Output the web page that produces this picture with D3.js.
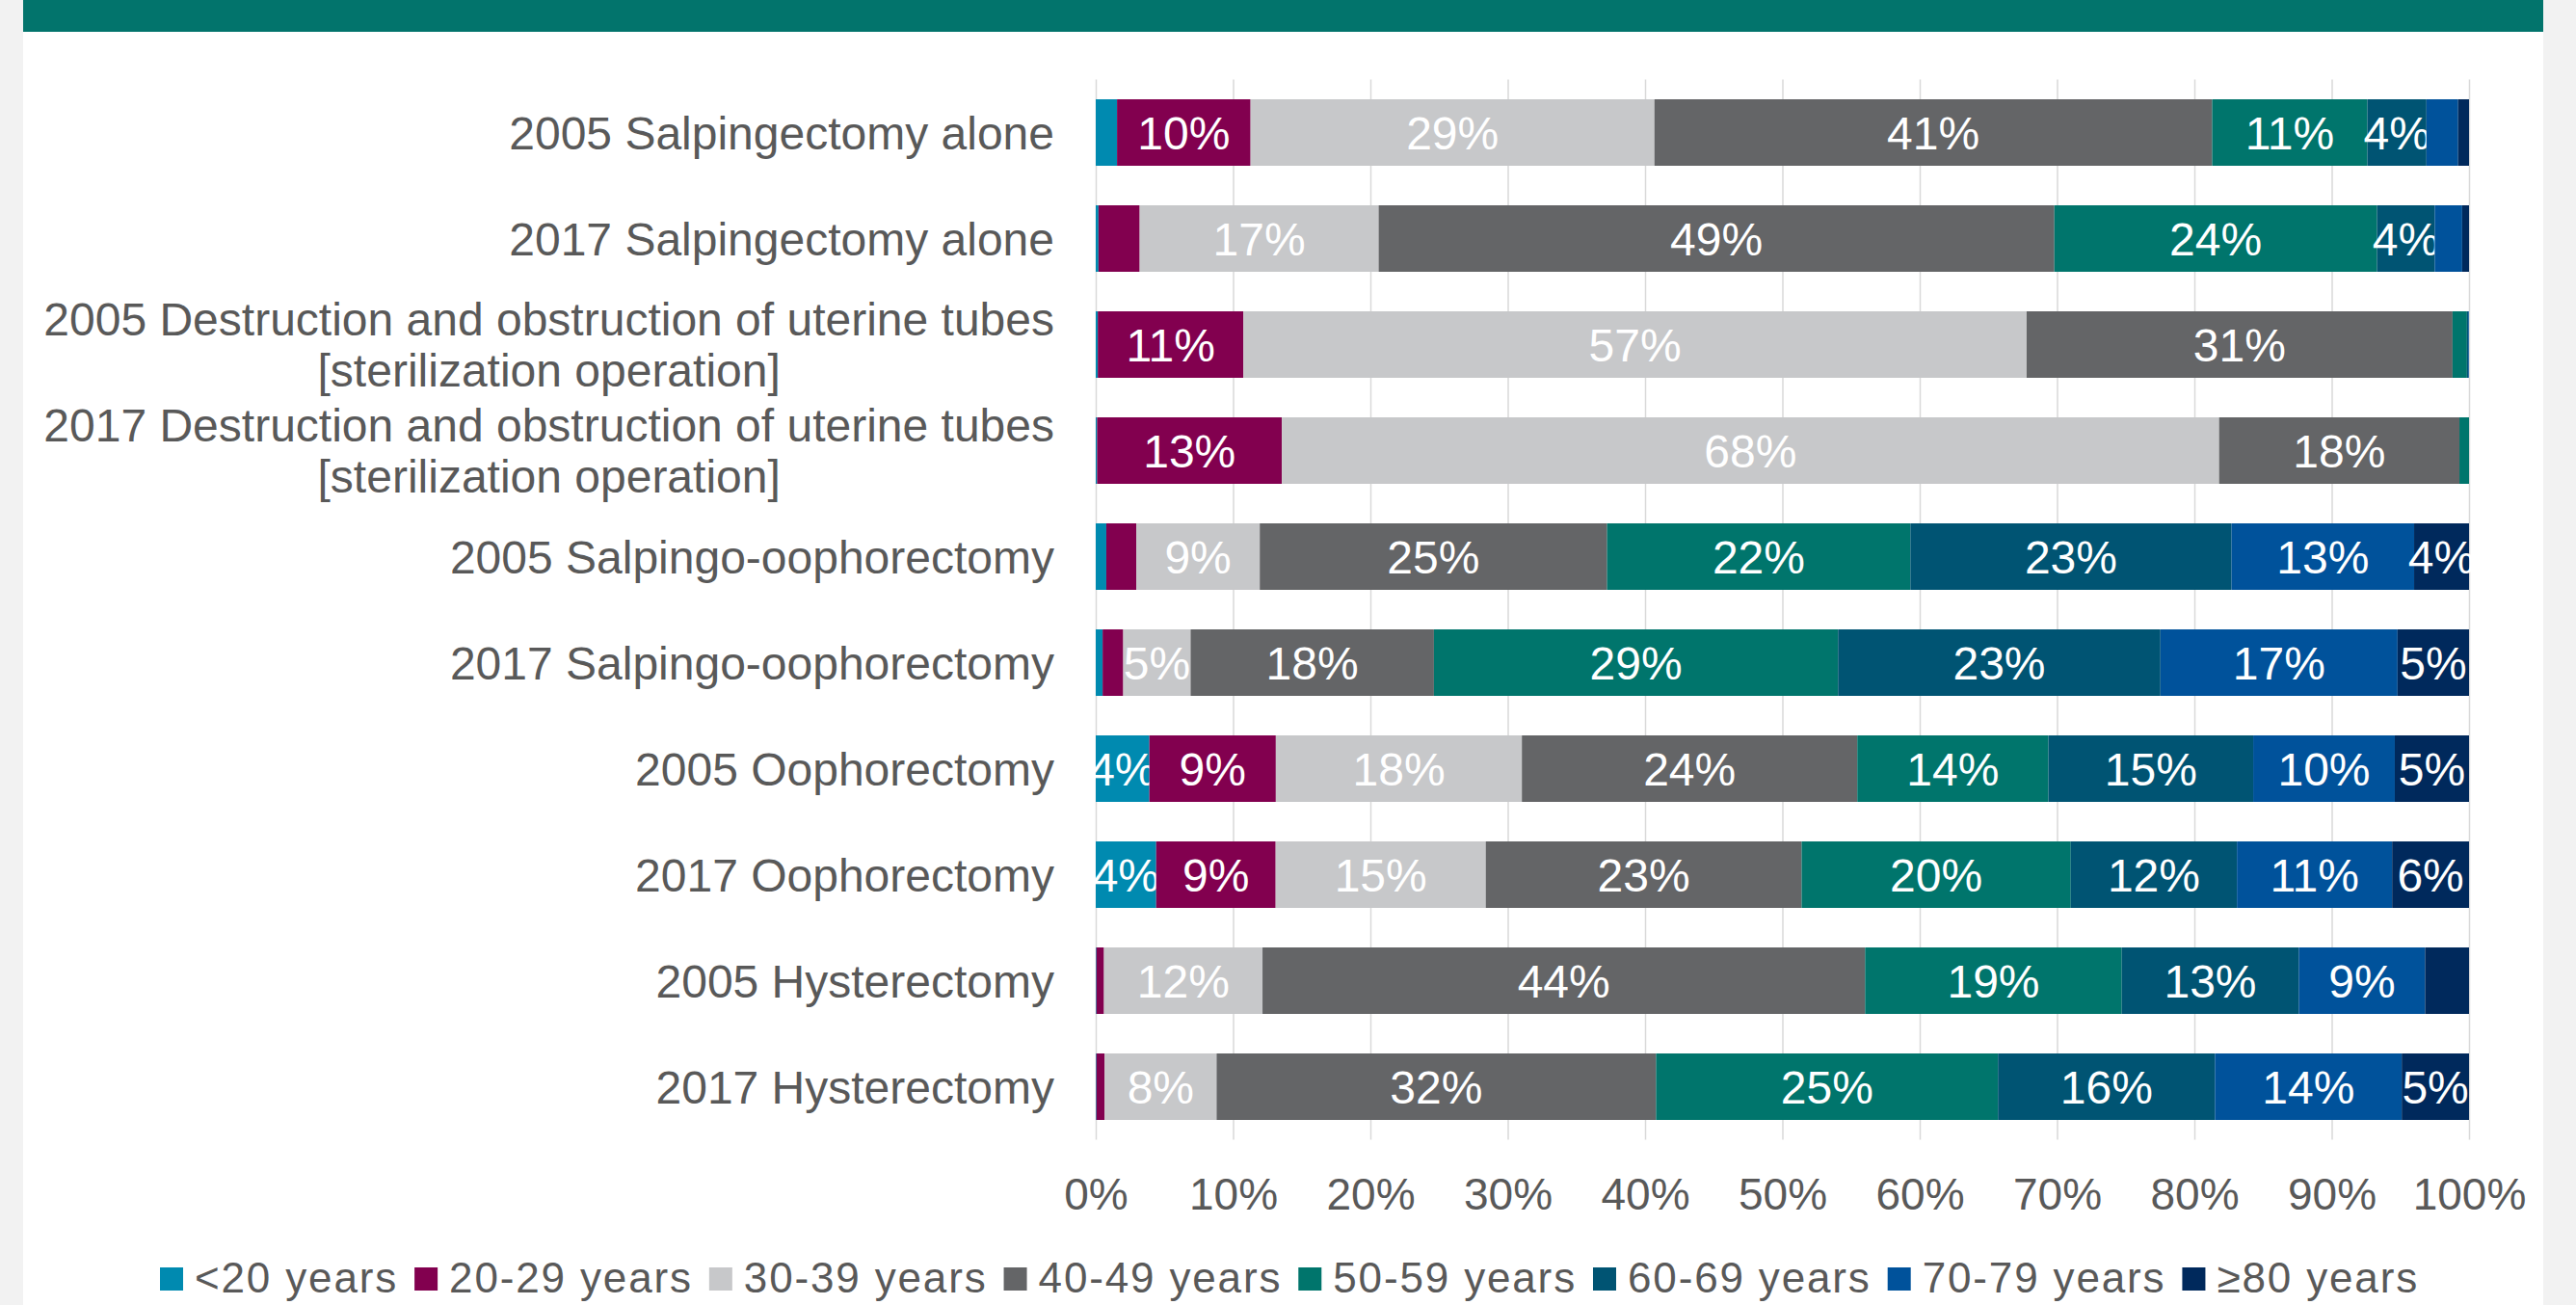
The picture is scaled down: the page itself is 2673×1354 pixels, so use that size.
<!DOCTYPE html>
<html>
<head>
<meta charset="utf-8">
<script src="https://d3js.org/d3.v7.min.js"></script>
<style>
  body { margin: 0; background: #f2f2f2; }
  svg { display: block; font-family: "Liberation Sans", Arial, sans-serif; }
</style>
</head>
<body>
<svg id="mySVG" width="2673" height="1354"></svg>
<script>
// chart data (share of each age group, in %)
var categories = [
	"2005 Salpingectomy alone",
	"2017 Salpingectomy alone",
	"2005 Destruction and obstruction of uterine tubes [sterilization operation]",
	"2017 Destruction and obstruction of uterine tubes [sterilization operation]",
	"2005 Salpingo-oophorectomy",
	"2017 Salpingo-oophorectomy",
	"2005 Oophorectomy",
	"2017 Oophorectomy",
	"2005 Hysterectomy",
	"2017 Hysterectomy"
];

var ageGroups = ["<20 years", "20-29 years", "30-39 years", "40-49 years", "50-59 years", "60-69 years", "70-79 years", "≥80 years"];
var ageColors = ["#008ab0", "#82004f", "#c7c8ca", "#646567", "#00756c", "#005473", "#00529b", "#00295c"];

var under20   = [1.55, 0.2, 0.15, 0.1, 0.77, 0.5, 3.9, 4.4, 0.05, 0.05];
var age20to29 = [9.72, 3.0, 10.6, 13.45, 2.18, 1.5, 9.2, 8.7, 0.55, 0.6];
var age30to39 = [29.4, 17.4, 57.0, 68.25, 9.0, 4.9, 17.9, 15.3, 11.55, 8.15];
var age40to49 = [40.6, 49.2, 31.0, 17.5, 25.3, 17.7, 24.4, 23.0, 43.9, 32.0];
var age50to59 = [11.3, 23.5, 1.05, 0.7, 22.1, 29.4, 13.9, 19.6, 18.7, 24.9];
var age60to69 = [4.3, 4.2, 0.1, 0, 23.4, 23.45, 14.9, 12.1, 12.9, 15.8];
var age70to79 = [2.3, 2.0, 0.05, 0, 13.3, 17.25, 10.3, 11.3, 9.2, 13.6];
var age80plus = [0.8, 0.5, 0, 0, 4.0, 5.2, 5.4, 5.6, 3.2, 4.9];

var xTicks = [0, 0.1, 0.2, 0.3, 0.4, 0.5, 0.6, 0.7, 0.8, 0.9, 1];

var seriesValues = [under20, age20to29, age30to39, age40to49, age50to59, age60to69, age70to79, age80plus];

// one row per category for d3.stack
var rows = categories.map(function(c, i) {
	var row = { category: c };
	ageGroups.forEach(function(g, j) {
		row[g] = seriesValues[j][i];
	});
	return row;
});

var svg = d3.select('#mySVG');
var textGray = "#595959";

// page panel + header band
svg.append("rect").attr("x", 24).attr("y", 0).attr("width", 2615).attr("height", 1354).attr("fill", "#ffffff");
svg.append("rect").attr("x", 24).attr("y", 0).attr("width", 2615).attr("height", 33).attr("fill", "#02746c");

var plotTop = 82.5, plotBottom = 1182.5;

var x = d3.scaleLinear().domain([0, 1]).range([1137, 2562]);
var y = d3.scaleBand()
	.domain(categories)
	.range([plotTop, plotBottom])
	.paddingInner(0.373)
	.paddingOuter(0.1865);

// gridlines and tick labels
var xAxis = svg.append("g")
	.attr("transform", "translate(0," + plotBottom + ")")
	.call(d3.axisBottom(x)
		.tickValues(xTicks)
		.tickFormat(d3.format(".0%"))
		.tickSize(-(plotBottom - plotTop)));

xAxis.select(".domain").remove();
xAxis.selectAll(".tick line").attr("stroke", "#d9d9d9").attr("stroke-width", 1.5);
xAxis.selectAll(".tick text")
	.attr("y", 72)
	.attr("dy", 0)
	.attr("fill", textGray)
	.attr("font-size", 46)
	.attr("font-family", "'Liberation Sans', Arial, sans-serif");

var stack = d3.stack().keys(ageGroups).offset(d3.stackOffsetExpand);
var layers = stack(rows);

var groups = svg.append("g")
	.selectAll("g")
	.data(layers)
	.enter()
	.append("g")
	.attr("fill", function(d, i) { return ageColors[i]; });

groups.selectAll("rect")
	.data(function(d) { return d; })
	.enter()
	.append("rect")
	.attr("x", function(d) { return x(d[0]); })
	.attr("y", function(d) { return y(d.data.category); })
	.attr("width", function(d) { return x(d[1]) - x(d[0]); })
	.attr("height", y.bandwidth());

// value labels, small slices are left without one
groups.selectAll("text")
	.data(function(d) {
		return d.map(function(p) { p.key = d.key; return p; });
	})
	.enter()
	.filter(function(d) { return d.data[d.key] >= 3.5; })
	.append("text")
	.attr("x", function(d) { return (x(d[0]) + x(d[1])) / 2; })
	.attr("y", function(d) { return y(d.data.category) + y.bandwidth() / 2; })
	.attr("dy", "0.36em")
	.attr("text-anchor", "middle")
	.attr("fill", "#ffffff")
	.attr("font-size", 48)
	.text(function(d) { return Math.round(d.data[d.key]) + "%"; });

// category labels, long ones broken before the bracket
var labelRight = 1094;
categories.forEach(function(c) {
	var lines = c.split(/ (?=\[)/);
	var cy = y(c) + y.bandwidth() / 2;
	var t = svg.append("text")
		.attr("font-size", 48)
		.attr("fill", textGray);
	if (lines.length == 1) {
		t.attr("x", labelRight).attr("y", cy).attr("dy", "0.36em")
			.attr("text-anchor", "end").text(c);
	} else {
		var spans = t.selectAll("tspan").data(lines).enter().append("tspan")
			.attr("y", function(d, i) { return cy + (i - 0.5) * 53; })
			.attr("dy", "0.36em")
			.text(function(d) { return d; });
		var widths = [];
		spans.each(function() { widths.push(this.getComputedTextLength()); });
		var w = d3.max(widths);
		spans.attr("x", labelRight - w / 2).attr("text-anchor", "middle");
	}
});

// legend along the bottom
var legend = svg.append("g");
var lx = 0;
ageGroups.forEach(function(g, i) {
	legend.append("rect")
		.attr("x", lx).attr("y", 1315)
		.attr("width", 24).attr("height", 24)
		.attr("fill", ageColors[i]);
	var t = legend.append("text")
		.attr("x", lx + 36).attr("y", 1341)
		.attr("font-size", 44)
		.attr("letter-spacing", 1.85)
		.attr("fill", textGray)
		.text(g);
	lx += 36 + t.node().getComputedTextLength() + 17;
});
var legendW = lx - 17;
legend.attr("transform", "translate(" + (1338 - legendW / 2) + ",0)");
</script>
</body>
</html>
